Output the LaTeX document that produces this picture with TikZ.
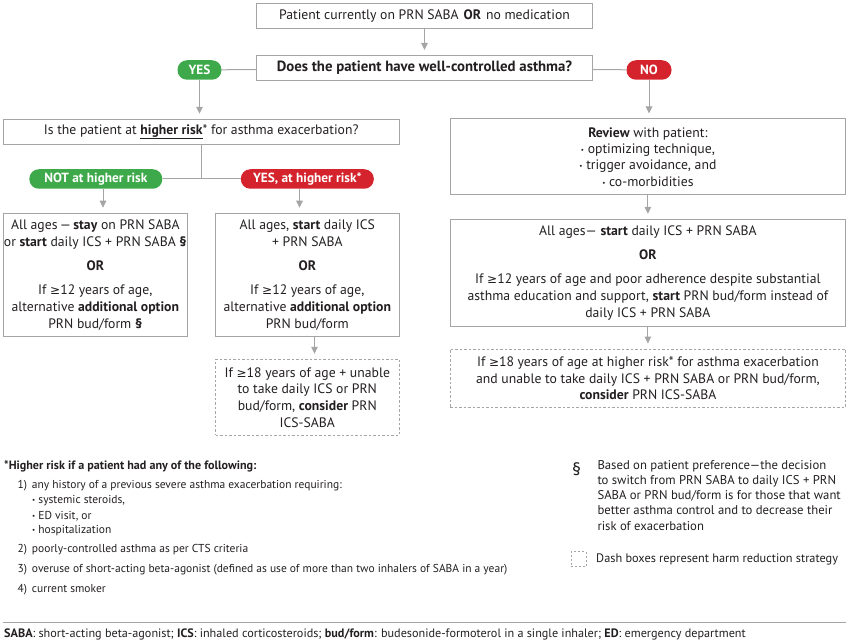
\documentclass[tikz,border=0pt]{standalone}
\usepackage{fontspec}
\setmainfont{PT Sans}
\newfontfamily\dvfont{DejaVu Sans}[Scale=0.88]
\usetikzlibrary{arrows.meta}
\definecolor{lg}{RGB}{165,165,165}
\definecolor{gr}{RGB}{62,169,74}
\definecolor{rd}{RGB}{212,35,44}
\definecolor{tx}{RGB}{35,31,32}
\newcommand\msz{\fontsize{13.7}{16.7}\selectfont}
\newcommand\fsz{\fontsize{11.5}{14}\selectfont}
\newcommand\bul{\raisebox{1pt}{\fontsize{7}{7}\selectfont\textbullet}\ }
\newcommand\gsym{{\dvfont ≥}}
\begin{document}
\begin{tikzpicture}[x=1pt,y=-1pt,
  box/.style={draw=lg, line width=1pt, align=center, inner sep=0pt, text=tx, font=\msz},
  dbox/.style={box, dash pattern=on 2.5pt off 2pt},
  pill/.style={rounded corners=9.5pt, fill=#1, text=white, font=\bfseries\fontsize{13.3}{14}\selectfont, minimum height=19.5pt, inner sep=0pt},
  arr/.style={draw=lg, line width=1pt, -{Triangle[width=6.5pt,length=7pt]}, shorten >=5pt},
  ln/.style={draw=lg, line width=1pt},
  txt/.style={anchor=west, inner sep=0pt, text=tx, font=\fsz}
]
\useasboundingbox (0,0) rectangle (850,644);

% top flow
\node[box, minimum width=336pt, minimum height=25pt] (top) at (424.5,16.5)
  {Patient currently on PRN SABA\hspace{5pt}\textbf{OR}\hspace{5pt}no medication};
\node[box, minimum width=336pt, minimum height=25pt, font=\fontsize{14.8}{16}\selectfont] (q) at (424.5,68)
  {\textbf{Does the patient have well-controlled asthma?}};
\node[pill=gr, minimum width=44pt] (yes) at (199.5,70) {YES};
\node[pill=rd, minimum width=45pt] (no) at (649,70) {NO};
\draw[arr] (top) -- (q);
\draw[ln] (yes) -- (q);
\draw[ln] (q) -- (no);

% left branch
\node[box, minimum width=396pt, minimum height=25pt, font=\fontsize{13.7}{16}\selectfont] (risk) at (201.2,131.8)
  {Is the patient at \underline{\textbf{higher risk}}* for asthma exacerbation?};
\draw[arr] (yes) -- (yes |- risk.north);
\node[pill=gr, minimum width=133pt] (notp) at (95.8,179) {NOT at higher risk};
\node[pill=rd, minimum width=133pt] (yesp) at (307.3,179) {YES, at higher risk*};
\draw[ln] (risk.south) -- (risk.south |- notp.east);
\draw[ln] (notp.east) -- (yesp.west);

\coordinate (ax1) at (103,0);
\coordinate (ax2) at (299.5,0);
\coordinate (ax3) at (314.5,0);

\node[box, minimum width=184pt, minimum height=123.5pt] (left) at (95.3,275)
  {All ages\,\textemdash\,\textbf{stay} on PRN SABA\\
   or \textbf{start} daily ICS + PRN SABA \textbf{\S}\\[7.5pt]
   \textbf{OR}\\[7.5pt]
   If \gsym12 years of age,\\
   alternative \textbf{additional option}\\
   PRN bud/form \textbf{\S}};
\node[box, minimum width=183.5pt, minimum height=123.5pt] (mid) at (307.3,275)
  {All ages, \textbf{start} daily ICS\\
   + PRN SABA\\[7.5pt]
   \textbf{OR}\\[7.5pt]
   If \gsym12 years of age,\\
   alternative \textbf{additional option}\\
   PRN bud/form};
\draw[arr] (notp.south -| ax1) -- (left.north -| ax1);
\draw[arr] (yesp.south -| ax2) -- (mid.north -| ax2);

\node[dbox, minimum width=183.5pt, minimum height=76pt] (middash) at (307.3,397.3)
  {If \gsym18 years of age + unable\\
   to take daily ICS or PRN\\
   bud/form, \textbf{consider} PRN\\
   ICS-SABA};
\draw[arr] (mid.south -| ax3) -- (middash.north -| ax3);

% right branch
\node[box, minimum width=395.5pt, minimum height=76pt, font=\fontsize{13.7}{16.2}\selectfont] (review) at (647.9,157)
  {\textbf{Review} with patient:\\
   \bul optimizing technique,\\
   \bul trigger avoidance, and\\
   \bul co-morbidities};
\draw[arr] (no) -- (no |- review.north);

\node[box, minimum width=395.5pt, minimum height=106.7pt] (right) at (647.9,272.7)
  {All ages\textemdash\ \textbf{start} daily ICS + PRN SABA\\[7.5pt]
   \textbf{OR}\\[7.5pt]
   If \gsym12 years of age and poor adherence despite substantial\\
   asthma education and support, \textbf{start} PRN bud/form instead of\\
   daily ICS + PRN SABA};
\draw[arr] (review) -- (right);

\node[dbox, minimum width=395.5pt, minimum height=58.3pt] (rightdash) at (647.9,378.2)
  {If \gsym18 years of age at higher risk* for asthma exacerbation\\
   and unable to take daily ICS + PRN SABA or PRN bud/form,\\
   \textbf{consider} PRN ICS-SABA};
\draw[arr] (right) -- (rightdash);

% footnotes
\node[txt, font=\fontsize{12.1}{14}\selectfont] (f0) at (4,466.7) {\textbf{*Higher risk if a patient had any of the following:}};
\node[txt] (f1) at (17.3,486) {1)\hspace{5pt}any history of a previous severe asthma exacerbation requiring:};
\node[txt] (f1a) at (32,501) {\bul systemic steroids,};
\node[txt] (f1b) at (32,516) {\bul ED visit, or};
\node[txt] (f1c) at (32,530.7) {\bul hospitalization};
\node[txt] (f2) at (17.3,550) {2)\hspace{5pt}poorly-controlled asthma as per CTS criteria};
\node[txt] (f3) at (17.3,570) {3)\hspace{5pt}overuse of short-acting beta-agonist (defined as use of more than two inhalers of SABA in a year)};
\node[txt] (f4) at (17.3,590) {4)\hspace{5pt}current smoker};

\node[txt, font=\fontsize{18}{18}\selectfont] (sect) at (572,469) {\S};
\node[txt, align=left, font=\fontsize{12.7}{15.2}\selectfont] (snote) at (597.3,495.3)
  {Based on patient preference\textemdash the decision\\
   to switch from PRN SABA to daily ICS + PRN\\
   SABA or PRN bud/form is for those that want\\
   better asthma control and to decrease their\\
   risk of exacerbation};
\node[draw=lg, line width=0.8pt, dash pattern=on 2pt off 2pt, minimum width=15pt, minimum height=15pt, inner sep=0pt] (dleg) at (578.5,559.2) {};
\node[txt, font=\fontsize{12.3}{14}\selectfont] (dtext) at (596,559.3) {Dash boxes represent harm reduction strategy};

\coordinate (hl1) at (3,622.5);
\coordinate (hl2) at (845.5,622.5);
\draw[ln] (hl1) -- (hl2);
\node[txt, font=\fontsize{12.2}{14}\selectfont] (foot) at (4,634.3) {\textbf{SABA}: short-acting beta-agonist; \textbf{ICS}: inhaled corticosteroids; \textbf{bud/form}: budesonide-formoterol in a single inhaler; \textbf{ED}: emergency department};
\end{tikzpicture}
\end{document}
